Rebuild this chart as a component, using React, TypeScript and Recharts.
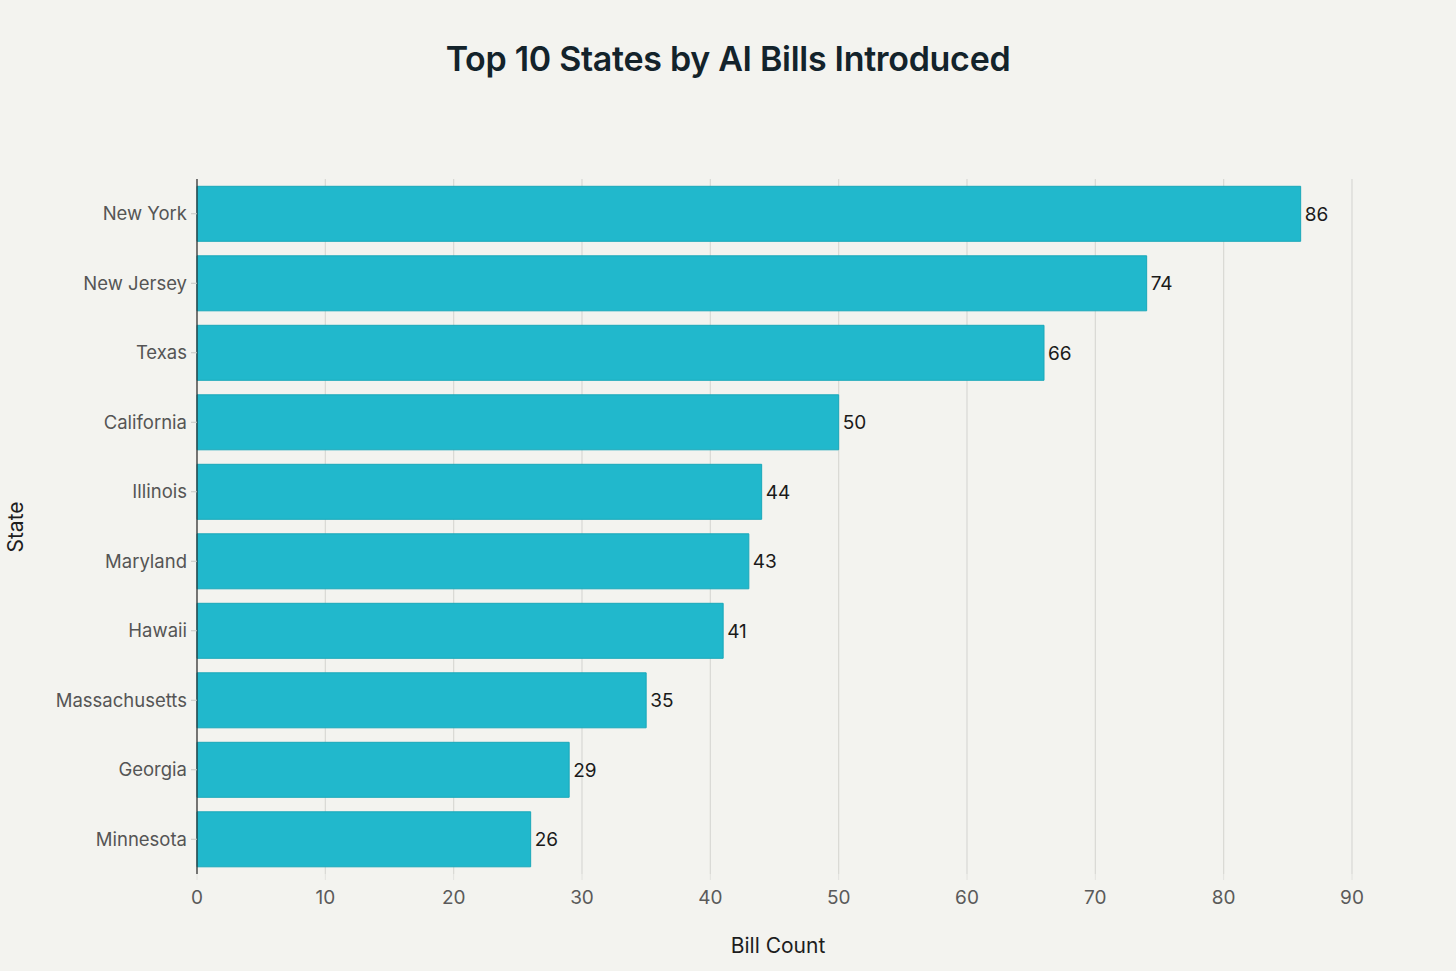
import React from 'react'
import { BarChart, Bar, XAxis, YAxis, CartesianGrid, LabelList } from 'recharts'

const STATES = [
  'New York', 'New Jersey', 'Texas', 'California', 'Illinois',
  'Maryland', 'Hawaii', 'Massachusetts', 'Georgia', 'Minnesota',
]
const BILLS = [86, 74, 66, 50, 44, 43, 41, 35, 29, 26]
const X_TICKS = [0, 10, 20, 30, 40, 50, 60, 70, 80, 90]

const data = STATES.map((state, i) => ({ state, bills: BILLS[i] }))

const FONT = 'Inter, "Noto Sans", sans-serif'
const BG = '#f3f3ef'
const BAR = '#21b8cc'

export default function App() {
  return (
    <div style={{ position: 'absolute', left: 0, top: 0, width: 1456, height: 971, background: BG, fontFamily: FONT }}>
      <div style={{
        position: 'absolute', left: 0, top: 38, width: 1456, textAlign: 'center',
        fontSize: 34, fontWeight: 600, color: '#13232b', letterSpacing: -0.3,
      }}>
        Top 10 States by AI Bills Introduced
      </div>
      <div style={{
        position: 'absolute', left: 0, top: 933, width: 1556, textAlign: 'center',
        fontSize: 21, color: '#1d1d1d',
      }}>
        Bill Count
      </div>
      <div style={{
        position: 'absolute', left: 15, top: 527, fontSize: 21, color: '#1d1d1d',
        transform: 'translate(-50%, -50%) rotate(-90deg)', whiteSpace: 'nowrap',
      }}>
        State
      </div>
      <BarChart
        width={1456}
        height={971}
        layout="vertical"
        data={data}
        margin={{ top: 179, right: 104, bottom: 0, left: 0 }}
        barCategoryGap="10.5%"
        style={{ position: 'absolute', left: 0, top: 0 }}
      >
        <CartesianGrid horizontal={false} stroke="#d8d8d4" strokeWidth={1.2} />
        <XAxis
          type="number"
          domain={[0, 90]}
          ticks={X_TICKS}
          axisLine={false}
          tickLine={{ stroke: '#e2e2de' }}
          tickSize={6}
          tick={{ fill: '#5a5a5a', fontSize: 19, fontFamily: FONT }}
          tickMargin={11}
          height={97}
        />
        <YAxis
          type="category"
          dataKey="state"
          width={197}
          axisLine={{ stroke: '#2a2a2a', strokeWidth: 1.2 }}
          tickLine={{ stroke: '#c8c8c4' }}
          tickSize={6}
          tickMargin={4}
          tick={{ fill: '#555555', fontSize: 18.5, fontFamily: FONT }}
        />
        <Bar dataKey="bills" fill={BAR} stroke="#1aa8ba" strokeWidth={1} isAnimationActive={false}>
          <LabelList dataKey="bills" position="right" offset={4} fill="#1a1a1a" fontSize={19} fontFamily={FONT} />
        </Bar>
      </BarChart>
    </div>
  )
}
